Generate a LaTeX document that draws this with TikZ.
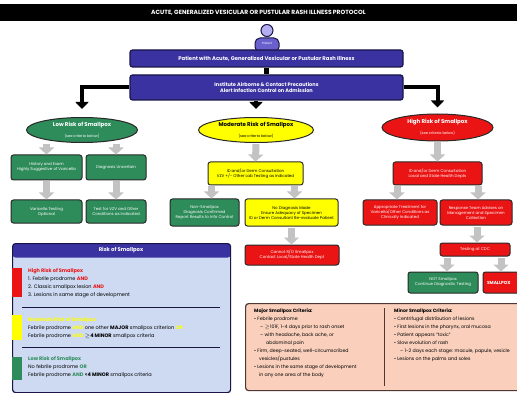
\documentclass[tikz,border=0pt]{standalone}
\usepackage{fontspec}
\setmainfont{Poppins}
\usetikzlibrary{arrows.meta,shapes.geometric,calc}

\definecolor{navy}{RGB}{58,50,160}
\definecolor{navyline}{RGB}{25,22,70}
\definecolor{lavender}{RGB}{180,175,240}
\definecolor{iconblue}{RGB}{105,95,205}
\definecolor{riskgreen}{RGB}{46,140,90}
\definecolor{riskyellow}{RGB}{255,255,0}
\definecolor{riskred}{RGB}{235,20,20}
\definecolor{edge}{RGB}{40,40,40}
\definecolor{paleblue}{RGB}{205,218,242}
\definecolor{salmon}{RGB}{250,208,188}
\definecolor{salmonline}{RGB}{80,55,50}
\definecolor{arrowgray}{RGB}{195,195,195}

\newcommand{\boxfont}{\fontsize{4}{5}\selectfont}
\newcommand{\notefont}{\fontsize{5}{8}\selectfont}
\newcommand{\critfont}{\fontsize{4.7}{8}\selectfont}

\tikzset{
  stepbox/.style={draw=edge, line width=1pt, rounded corners=2.5pt, align=center,
    inner sep=0.5pt, font=\boxfont},
  gbox/.style={stepbox, fill=riskgreen, text=white},
  ybox/.style={stepbox, fill=riskyellow, text=black},
  rbox/.style={stepbox, fill=riskred, text=white},
  bbox/.style={stepbox, fill=navy, text=white, draw=navyline, line width=1.2pt},
  riskell/.style={ellipse, draw=edge, line width=1pt, inner sep=0pt, align=center},
  garrow/.style={draw=arrowgray, line width=7pt, shorten <=1pt,
    -{Triangle[width=15pt,length=7pt]}},
  blkarrow/.style={draw=black, line width=4pt, -{Triangle[width=13pt,length=7pt]}},
  txt/.style={inner sep=0pt, anchor=base west, font=\notefont},
}

\begin{document}
\begin{tikzpicture}[x=1pt,y=-1pt]
\useasboundingbox (0,0) rectangle (517,393);
\clip (0,0) rectangle (517,393);
\fill[white] (0,0) rectangle (517,393);

% title bar
\node[fill=black, text=white, minimum width=517pt, minimum height=17pt, inner sep=0pt,
  font=\fontsize{6}{7}\selectfont\bfseries] (title) at (258.5,12.5)
  {ACUTE, GENERALIZED VESICULAR OR PUSTULAR RASH ILLNESS PROTOCOL};

% patient icon
\node[draw=navyline, line width=1pt, fill=iconblue, rounded corners=5pt,
  minimum width=24pt, minimum height=14pt, inner sep=0pt, text=white,
  font=\fontsize{3}{3}\selectfont] (body) at (267,45) {\raisebox{3pt}{Patient}};
\node[circle, draw=navyline, line width=1pt, fill=lavender, minimum size=12pt,
  inner sep=0pt] (head) at (267,30.5) {};

% top boxes
\node[bbox, minimum width=273pt, minimum height=17pt,
  font=\fontsize{5.3}{6}\selectfont\bfseries] (p1) at (266.5,58.5)
  {Patient with Acute, Generalized Vesicular or Pustular Rash Illness};
\node[bbox, minimum width=273pt, minimum height=25pt,
  font=\fontsize{5}{6.5}\selectfont\bfseries] (p2) at (266.5,87.5)
  {Institute Airborne \& Contact Precautions\\Alert Infection Control on Admission};
\draw[line width=5pt] (p1.south) -- (p2.north);

% risk ellipses
\node[riskell, fill=riskgreen, text=white, minimum width=111pt, minimum height=25pt]
  (low) at (82,130)
  {{\fontsize{5.5}{6.5}\selectfont\bfseries Low Risk of Smallpox}\\[-1pt]
   {\fontsize{3.6}{4.5}\selectfont (see criteria below)}};
\node[riskell, fill=riskyellow, text=black, minimum width=115pt, minimum height=25pt]
  (mod) at (256,130)
  {{\fontsize{5.5}{6.5}\selectfont\bfseries Moderate Risk of Smallpox}\\[-1pt]
   {\fontsize{3.6}{4.5}\selectfont (see criteria below)}};
\node[riskell, fill=riskred, text=white, minimum width=111pt, minimum height=27pt]
  (high) at (437.5,127.5)
  {{\fontsize{5.5}{6.5}\selectfont\bfseries High Risk of Smallpox}\\[-1pt]
   {\fontsize{3.6}{4.5}\selectfont (see criteria below)}};

% black branch arrows
\draw[blkarrow, shorten >=8pt] (p2.west) -- (p2.west -| low.north) -- (low.north);
\draw[blkarrow, shorten >=8pt] (p2.south -| mod.north) -- (mod.north);
\draw[blkarrow, shorten >=6pt] (p2.east) -- (p2.east -| high.north) -- (high.north);

% low-risk branch
\node[gbox, minimum width=71pt, minimum height=25pt] (hist) at (46.5,167.5)
  {History and Exam\\Highly Suggestive of Varicella};
\node[gbox, minimum width=60pt, minimum height=25pt] (diag) at (116,167.5)
  {Diagnosis Uncertain};
\node[gbox, minimum width=71pt, minimum height=23pt] (vtest) at (46.5,211.5)
  {Varicella Testing\\Optional};
\node[gbox, minimum width=60pt, minimum height=23pt] (vzv) at (116,211.5)
  {Test for VZV and Other\\Conditions as Indicated};

% moderate-risk branch
\node[ybox, minimum width=95pt, minimum height=23pt] (idm) at (255.5,173.5)
  {ID and/or Derm Consultation\\VZV +/- Other Lab Testing as Indicated};
\node[gbox, minimum width=69pt, minimum height=27pt] (nonsp) at (204.5,212.5)
  {Non-Smallpox\\Diagnosis Confirmed\\Report Results to Info Control};
\node[ybox, minimum width=93pt, minimum height=27pt] (nodx) at (291.5,212.5)
  {No Diagnosis Made\\Ensure Adequacy of Specimen\\ID or Derm Consultant Re-evaluate Patient};
\node[rbox, minimum width=94pt, minimum height=20pt] (cannot) at (292,255)
  {Cannot R/O Smallpox\\Contact Local/State Health Dept};

% high-risk branch
\node[rbox, minimum width=89pt, minimum height=23pt] (idh) at (437.5,173.5)
  {ID and/or Derm Consultation\\Local and State Health Depts};
\node[rbox, minimum width=74pt, minimum height=25pt] (appr) at (400,212.5)
  {Appropriate Treatment for\\Varicella/Other Conditions as\\Clinically Indicated};
\node[rbox, minimum width=72pt, minimum height=25pt] (resp) at (476,212.5)
  {Response Team Advises on\\Management and Specimen\\Collection};
\node[rbox, minimum width=70pt, minimum height=13pt] (cdc) at (475,249.5)
  {Testing at CDC};
\node[gbox, minimum width=70pt, minimum height=21pt] (notsp) at (443,282.5)
  {NOT Smallpox\\Continue Diagnostic Testing};
\node[rbox, minimum width=48pt, minimum height=21pt, text width=40pt, align=left,
  font=\fontsize{4.4}{5}\selectfont\bfseries] (smallpox) at (507,282.5) {SMALLPOX};

% gray flow arrows
\draw[garrow] (hist.north |- low.south) -- (hist.north);
\draw[garrow] (diag.north |- low.south) -- (diag.north);
\draw[garrow] (hist.south) -- (vtest.north);
\draw[garrow] (diag.south) -- (vzv.north);
\draw[garrow] (mod.south) -- (idm.north);
\draw[garrow] ([xshift=7pt]nonsp.north |- idm.south) -- ([xshift=7pt]nonsp.north);
\draw[garrow] ([xshift=3pt]nodx.north |- idm.south) -- ([xshift=3pt]nodx.north);
\draw[garrow] (nodx.south) -- (nodx.south |- cannot.north);
\draw[garrow] (high.south) -- (idh.north);
\draw[garrow] ([xshift=-3pt]appr.north |- idh.south) -- ([xshift=-3pt]appr.north);
\draw[garrow] ([xshift=2pt]resp.north |- idh.south) -- ([xshift=2pt]resp.north);
\draw[garrow] ([xshift=1pt]resp.south) -- ([xshift=1pt]resp.south |- cdc.north);
\draw[garrow] ([xshift=4pt]notsp.north |- cdc.south) -- ([xshift=4pt]notsp.north);
\draw[garrow] ([xshift=-6pt]smallpox.north |- cdc.south) -- ([xshift=-6pt]smallpox.north);

% risk criteria panel
\node[draw=navyline, line width=1.2pt, fill=paleblue, rounded corners=3pt,
  minimum width=218pt, minimum height=149pt, inner sep=0pt, anchor=north west,
  path picture={\fill[navy] (path picture bounding box.north west) rectangle
    ([yshift=-14pt]path picture bounding box.north east);}] (riskbox) at (12,243) {};
\node[text=white, font=\fontsize{5.3}{6}\selectfont\bfseries, inner sep=0pt]
  (riskhead) at (121,250.5) {Risk of Smallpox};
\fill[riskred] (12,268) rectangle (22,297);
\fill[riskyellow] (12,315) rectangle (22,340);
\fill[riskgreen] (12,357) rectangle (22,380);
\draw[navyline, line width=1pt] (22,307) -- (220,307);
\draw[navyline, line width=1pt] (22,347) -- (220,347);

\node[txt] (h0) at (28,272) {\textcolor{riskred}{\bfseries High Risk of Smallpox}};
\node[txt] (h1) at (28,280) {1. Febrile prodrome \textcolor{riskred}{\bfseries AND}};
\node[txt] (h2) at (28,288) {2. Classic smallpox lesion \textcolor{riskred}{\bfseries AND}};
\node[txt] (h3) at (28,296) {3. Lesions in same stage of development};
\node[txt] (m0) at (28,321) {\textcolor{riskyellow}{\bfseries Moderate Risk of Smallpox}};
\node[txt] (m1) at (28,329) {Febrile prodrome \textcolor{riskyellow}{\bfseries AND} one other
  \textbf{MAJOR} smallpox criterion \textcolor{riskyellow}{\bfseries OR}};
\node[txt] (m2) at (28,337) {Febrile prodrome \textcolor{riskyellow}{\bfseries AND}
  \textbf{$\geq$4 MINOR} smallpox criteria};
\node[txt] (l0) at (28,360) {\textcolor{riskgreen}{\bfseries Low Risk of Smallpox}};
\node[txt] (l1) at (28,368) {No febrile prodrome \textcolor{riskgreen}{\bfseries OR}};
\node[txt] (l2) at (28,376) {Febrile prodrome \textcolor{riskgreen}{\bfseries AND}
  \textbf{<4 MINOR} smallpox criteria};

% major / minor criteria panel
\node[draw=salmonline, line width=1.2pt, fill=salmon, rounded corners=3pt,
  minimum width=300pt, minimum height=87pt, inner sep=0pt, anchor=north west]
  (crit) at (245,303) {};
\draw[salmonline, line width=1pt] (384,308) -- (384,386);
\node[txt, anchor=north west, align=left, font=\critfont] (major) at (254,309)
  {\textbf{Major Smallpox Criteria:}\\
   • Febrile prodrome\\
   \hspace*{6pt}– $\geq$101F, 1-4 days prior to rash onset\\
   \hspace*{6pt}– with headache, back ache, or\\
   \hspace*{12pt}abdominal pain\\
   • Firm, deep-seated, well-circumscribed\\
   \hspace*{5pt}vesicles/pustules\\
   • Lesions in the same stage of development\\
   \hspace*{5pt}in any one area of the body};
\node[txt, anchor=north west, align=left, font=\critfont] (minor) at (394,309)
  {\textbf{Minor Smallpox Criteria:}\\
   • Centrifugal distribution of lesions\\
   • First lesions in the pharynx, oral mucosa\\
   • Patient appears ``toxic''\\
   • Slow evolution of rash\\
   \hspace*{6pt}– 1-2 days each stage: macule, papule, vesicle\\
   • Lesions on the palms and soles};
\end{tikzpicture}
\end{document}
